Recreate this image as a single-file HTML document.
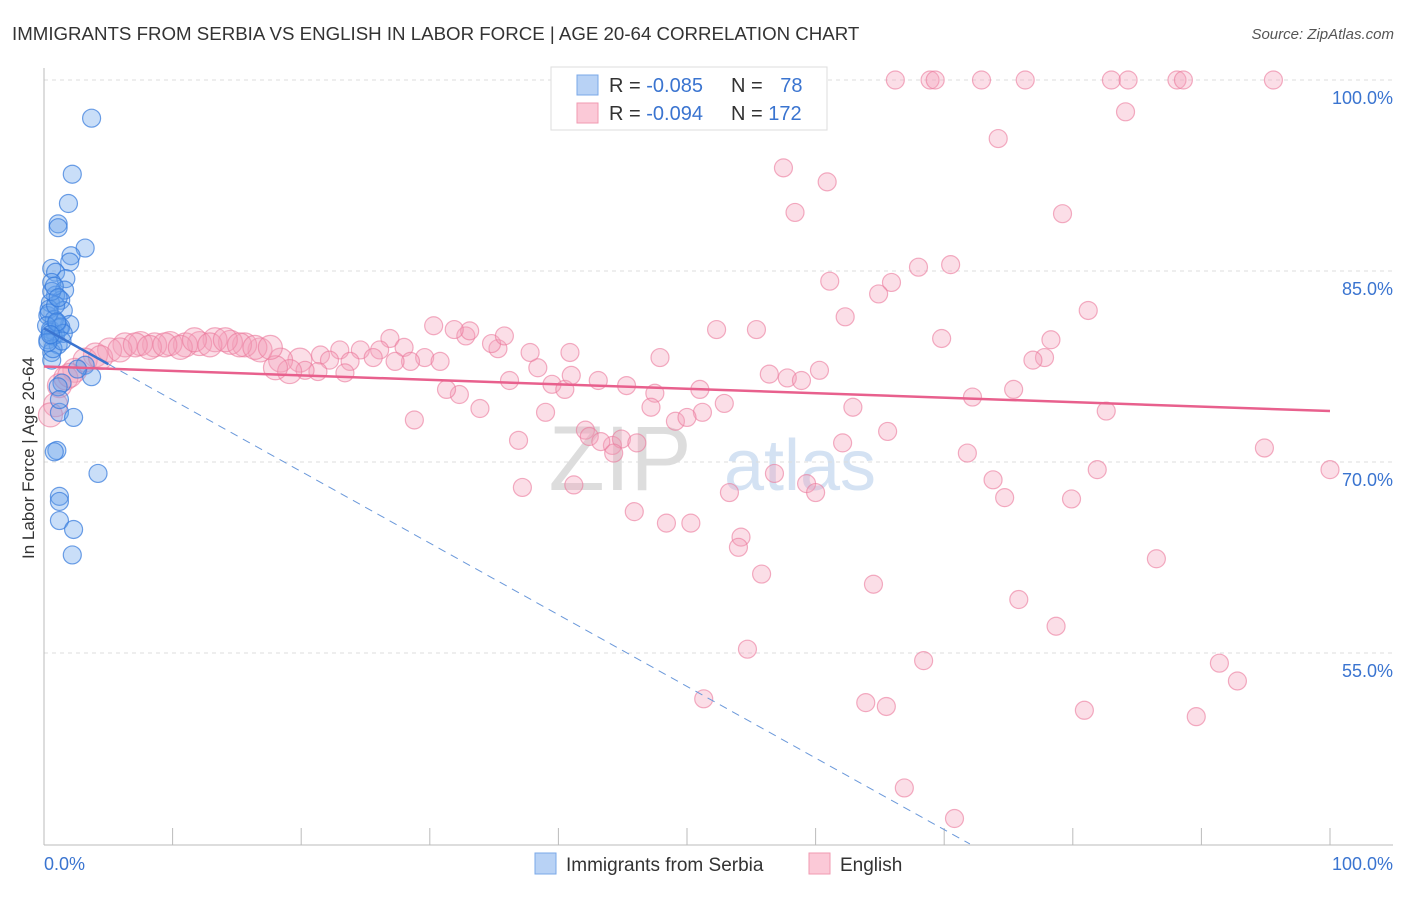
<!DOCTYPE html>
<html><head><meta charset="utf-8"><style>
body{margin:0;background:#fff;font-family:"Liberation Sans",sans-serif;}
svg text{font-family:"Liberation Sans",sans-serif;}
</style></head><body>
<svg id="chart" width="1406" height="892" xmlns="http://www.w3.org/2000/svg">
<text x="12" y="40" font-size="18.7" fill="#333">IMMIGRANTS FROM SERBIA VS ENGLISH IN LABOR FORCE | AGE 20-64 CORRELATION CHART</text>
<text x="1394" y="39" font-size="15" fill="#555" font-style="italic" text-anchor="end">Source: ZipAtlas.com</text>
<text x="34" y="458" font-size="17" fill="#333" text-anchor="middle" transform="rotate(-90 34 458)">In Labor Force | Age 20-64</text>
<text x="620" y="490" font-size="92" fill="#ddd" font-family="Liberation Serif" text-anchor="middle">ZIP</text>
<text x="800" y="490" font-size="72" fill="#d4e2f3" text-anchor="middle">atlas</text>
<g id="grid"></g><g id="axes"></g><g id="pink"></g><g id="blue"></g><g id="trends"></g>
<g>
<rect x="551" y="67" width="276" height="63" fill="#fff" stroke="#ddd"/>
<rect x="577" y="75" width="21" height="20" fill="#b8d2f5" stroke="#7aa8e8"/>
<rect x="577" y="103" width="21" height="20" fill="#fbc9d7" stroke="#f09ab2"/>
<text x="609" y="92" font-size="20" fill="#333">R = <tspan fill="#3a74d0">-0.085</tspan></text>
<text x="731" y="92" font-size="20" fill="#333">N = <tspan fill="#3a74d0" dx="12">78</tspan></text>
<text x="609" y="120" font-size="20" fill="#333">R = <tspan fill="#3a74d0">-0.094</tspan></text>
<text x="731" y="120" font-size="20" fill="#333">N = <tspan fill="#3a74d0">172</tspan></text>
</g>
<g>
<rect x="535" y="853" width="21" height="21" fill="#b8d2f5" stroke="#7aa8e8"/>
<text x="566" y="871" font-size="19" fill="#333">Immigrants from Serbia</text>
<rect x="809" y="853" width="21" height="21" fill="#fbc9d7" stroke="#f09ab2"/>
<text x="840" y="871" font-size="19" fill="#333">English</text>
</g>
</svg>
<script>
const yTicks=[100,85,70,55];
const xTickVals=[0,10,20,30,40,50,60,70,80,90,100];
const blueX=[3.7,2.2,1.9,1.1,1.1,3.2,2.1,2.0,0.6,0.9,1.7,0.6,1.6,0.9,1.3,0.5,1.5,0.3,2.0,1.2,0.5,0.9,0.3,1.1,0.6,0.6,3.2,3.7,1.4,1.1,1.2,2.3,1.0,0.8,4.2,1.2,1.2,1.2,2.3,2.2,2.6,1.2,0.4,0.8,1.0,0.5,0.7,1.3,0.4,0.9,1.5,0.7,0.2,1.0,0.6,1.4,0.3,0.8,1.1,0.5];
const blueY=[97.0,92.6,90.3,88.7,88.4,86.8,86.2,85.7,85.2,84.9,84.4,84.1,83.5,83.1,82.7,82.5,81.9,81.5,80.8,80.5,80.4,80.0,79.6,79.2,78.6,78.0,77.6,76.7,76.2,75.9,73.9,73.5,70.9,70.8,69.1,67.3,66.9,65.4,64.7,62.7,77.3,74.9,82.0,81.2,80.9,80.2,79.9,80.6,81.7,82.3,80.1,78.9,80.7,81.0,83.4,79.5,79.4,83.8,82.9,80.0];
const pinkX=[66.2,68.9,69.3,72.9,76.3,83.0,84.3,88.1,88.6,95.6,84.1,74.2,57.5,60.9,58.4,79.2,68.0,70.5,61.1,65.9,64.9,62.3,81.2,52.3,55.4,69.8,78.3,77.8,76.9,47.9,60.3,56.4,57.8,58.9,75.4,72.2,82.6,62.9,52.9,51.0,51.2,49.1,50.0,65.6,62.1,94.9,71.8,100,81.9,73.8,74.7,79.9,56.8,59.3,60.0,53.3,45.9,48.4,50.3,54.2,54.0,86.5,55.8,64.5,75.8,78.7,54.7,68.4,91.4,92.8,51.3,63.9,65.5,80.9,89.6,66.9,70.8,
42.1,42.4,44.2,43.3,44.9,46.1,44.3,37.2,41.2,36.9,39.0,33.9,32.3,31.3,28.8,36.2,39.5,40.5,43.1,45.3,47.5,47.2,41.0,38.4,37.8,40.9,35.3,34.8,35.8,32.8,33.1,31.9,30.3,26.9,28.0,26.1,24.6,23.0,21.5,19.9,18.4,29.6,30.8,28.5,27.3,25.6,23.8,23.4,22.2,21.3,20.3,19.1,18.0,16.8,15.6,14.5,13.3,12.1,11.0,9.8,8.6,7.5,6.3,5.1,4.0,3.2,2.4,1.2,0.9,0.5,1.7,2.0,4.4,5.9,7.1,8.2,9.4,10.6,11.7,12.9,14.1,15.2,16.4,17.6];
const pinkY=[100,100,100,100,100,100,100,100,100,100,97.5,95.4,93.1,92.0,89.6,89.5,85.3,85.5,84.2,84.1,83.2,81.4,81.9,80.4,80.4,79.7,79.6,78.2,78.0,78.2,77.2,76.9,76.6,76.4,75.7,75.1,74.0,74.3,74.6,75.7,73.9,73.2,73.5,72.4,71.5,71.1,70.7,69.4,69.4,68.6,67.2,67.1,69.1,68.3,67.6,67.6,66.1,65.2,65.2,64.1,63.3,62.4,61.2,60.4,59.2,57.1,55.3,54.4,54.2,52.8,51.4,51.1,50.8,50.5,50.0,44.4,42.0,
72.5,72.0,71.3,71.6,71.8,71.5,70.7,68.0,68.2,71.7,73.9,74.2,75.3,75.7,73.3,76.4,76.1,75.7,76.4,76.0,75.4,74.3,76.8,77.4,78.6,78.6,78.9,79.3,79.9,79.9,80.3,80.4,80.7,79.7,79.0,78.8,78.8,78.8,78.4,78.0,78.0,78.2,77.9,77.9,77.9,78.2,77.9,77.0,78.0,77.1,77.2,77.1,77.4,78.8,79.2,79.4,79.6,79.3,79.2,79.3,79.2,79.3,79.2,78.8,78.4,78.0,77.2,76.0,74.5,73.7,76.6,76.8,78.2,78.8,79.2,79.0,79.2,79.0,79.6,79.2,79.6,79.2,79.0,79.0];
const pinkTrend=[77.5,74.0];
const blueTrend=[80.5,40.0,72.0];
const NS='http://www.w3.org/2000/svg';
const X=v=>44+v*12.86, Y=v=>80+(100-v)*12.733;
function mk(t,p,a){const e=document.createElementNS(NS,t);for(const k in a)e.setAttribute(k,a[k]);p.appendChild(e);return e;}
const grid=document.getElementById('grid'),axes=document.getElementById('axes');
yTicks.forEach(t=>{
 const l=mk('line',grid,{x1:44,x2:1393,y1:Y(t),y2:Y(t),stroke:'#ddd','stroke-dasharray':'4 4'});
 
 
 const tx=mk('text',axes,{x:1393,y:Y(t)+24,'font-size':18,fill:'#3a74d0','text-anchor':'end'});
 tx.textContent=t.toFixed(1)+'%';
 
 
});
const ax=mk('line',axes,{x1:44,x2:44,y1:68,y2:845,stroke:'#bbb'});


const bx=mk('line',axes,{x1:44,x2:1393,y1:845,y2:845,stroke:'#bbb'});


xTickVals.forEach(t=>{
 const l=mk('line',axes,{x1:X(t),x2:X(t),y1:828,y2:845,stroke:'#bbb'});
 
 
});
[[0,'0.0%','start',44],[100,'100.0%','end',1393]].forEach(d=>{
 const tx=mk('text',axes,{x:d[3],y:870,'font-size':18,fill:'#3a74d0','text-anchor':d[2]});
 tx.textContent=d[1];
 
 
});
const pg=document.getElementById('pink');
pinkX.forEach((x,i)=>{
 const c=mk('circle',pg,{cx:X(x),cy:Y(pinkY[i]),r:x<20?12:9,fill:'rgba(244,160,185,0.35)',stroke:'rgba(235,120,155,0.6)','stroke-width':1.2});
 
 
});
const bg=document.getElementById('blue');
blueX.forEach((x,i)=>{
 const c=mk('circle',bg,{cx:X(x),cy:Y(blueY[i]),r:9,fill:'rgba(100,160,235,0.35)',stroke:'rgba(50,120,220,0.7)','stroke-width':1.2});
 
 
});
const tg=document.getElementById('trends');
const pt=mk('line',tg,{x1:X(0),y1:Y(pinkTrend[0]),x2:X(100),y2:Y(pinkTrend[1]),stroke:'#e8608d','stroke-width':2.5});


const slope=(blueTrend[1]-blueTrend[0])/blueTrend[2];
const bs=mk('line',tg,{x1:X(0),y1:Y(blueTrend[0]),x2:X(5),y2:Y(blueTrend[0]+slope*5),stroke:'#3a74d0','stroke-width':2.5});


const bd=mk('line',tg,{x1:X(5),y1:Y(blueTrend[0]+slope*5),x2:X(blueTrend[2]),y2:Y(blueTrend[1]),stroke:'#6a98da','stroke-width':1,'stroke-dasharray':'8 6'});


</script>
</body></html>
